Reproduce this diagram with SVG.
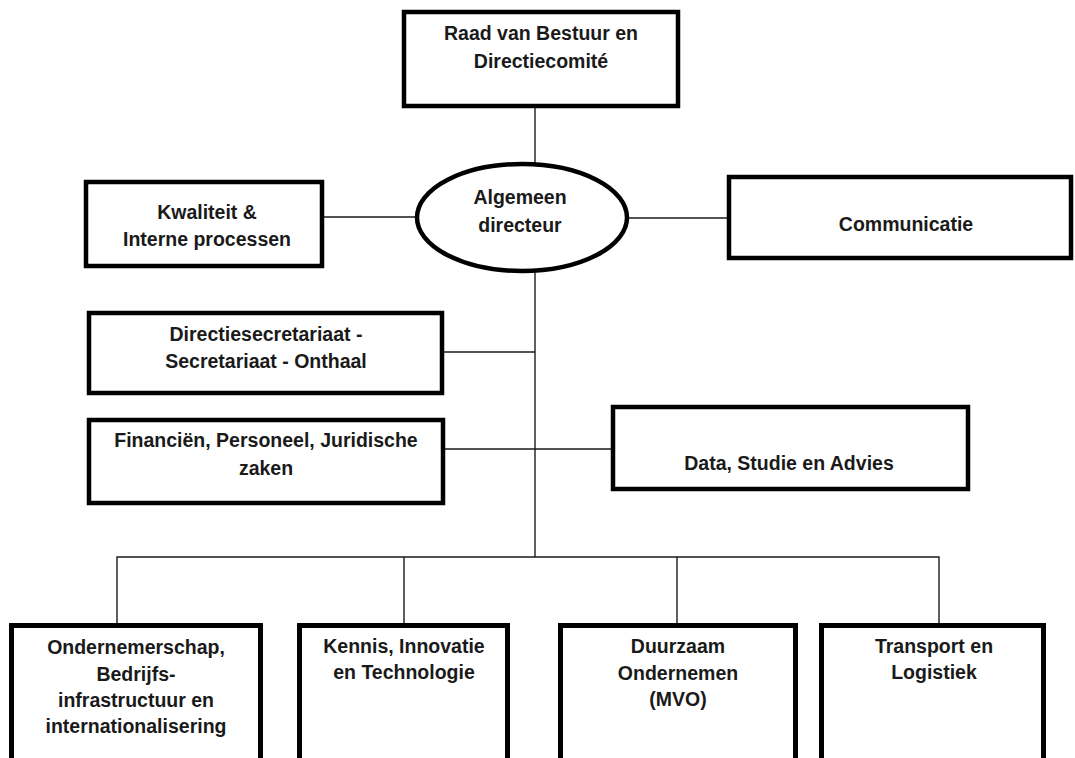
<svg xmlns="http://www.w3.org/2000/svg" width="1075" height="758" viewBox="0 0 1075 758">
<style>
.box{fill:#fff;stroke:#000;stroke-width:4.5}
.bbox{fill:#fff;stroke:#000;stroke-width:5}
.ln{stroke:#1a1a1a;stroke-width:1.4;fill:none}
text{font-family:"Liberation Sans",Arial,sans-serif;font-weight:bold;font-size:19.5px;fill:#1a1a1a;text-anchor:middle}
</style>
<rect width="1075" height="758" fill="#fff"/>
<g id="connectors">
<line class="ln" x1="535" y1="108" x2="535" y2="164"/>
<line class="ln" x1="535" y1="271" x2="535" y2="557"/>
<line class="ln" x1="324" y1="217" x2="417" y2="217"/>
<line class="ln" x1="627" y1="218" x2="727" y2="218"/>
<line class="ln" x1="444" y1="352" x2="535" y2="352"/>
<line class="ln" x1="445" y1="449" x2="611" y2="449"/>
<polyline class="ln" points="117,623 117,557 939,557 939,623"/>
<line class="ln" x1="404" y1="557" x2="404" y2="623"/>
<line class="ln" x1="677" y1="557" x2="677" y2="623"/>
</g>
<g id="raad">
<rect class="box" x="404" y="12" width="274" height="94"/>
<text x="541" y="40">Raad van Bestuur en</text>
<text x="541" y="68">Directiecomité</text>
</g>
<g id="algemeen">
<ellipse class="box" cx="522" cy="217.5" rx="105" ry="53.5"/>
<text x="520" y="204">Algemeen</text>
<text x="520" y="232">directeur</text>
</g>
<g id="kwaliteit">
<rect class="box" x="86" y="182" width="236" height="84"/>
<text x="207" y="219">Kwaliteit &amp;</text>
<text x="207" y="246">Interne processen</text>
</g>
<g id="communicatie">
<rect class="box" x="729" y="177" width="342" height="81"/>
<text x="906" y="231">Communicatie</text>
</g>
<g id="directiesecretariaat">
<rect class="box" x="89" y="313" width="353" height="80"/>
<text x="266" y="341">Directiesecretariaat -</text>
<text x="266" y="368">Secretariaat - Onthaal</text>
</g>
<g id="financien">
<rect class="box" x="89" y="420" width="354" height="83"/>
<text x="266" y="447">Financiën, Personeel, Juridische</text>
<text x="266" y="475">zaken</text>
</g>
<g id="data">
<rect class="box" x="613" y="407" width="355" height="82"/>
<text x="789" y="470">Data, Studie en Advies</text>
</g>
<g id="ondernemerschap">
<rect class="bbox" x="11.5" y="625.5" width="249" height="160"/>
<text x="136" y="654">Ondernemerschap,</text>
<text x="136" y="681">Bedrijfs-</text>
<text x="136" y="707">infrastructuur en</text>
<text x="136" y="733">internationalisering</text>
</g>
<g id="kennis">
<rect class="bbox" x="299.5" y="625.5" width="208" height="160"/>
<text x="404" y="653">Kennis, Innovatie</text>
<text x="404" y="679">en Technologie</text>
</g>
<g id="duurzaam">
<rect class="bbox" x="560.5" y="625.5" width="235" height="160"/>
<text x="678" y="653">Duurzaam</text>
<text x="678" y="680">Ondernemen</text>
<text x="678" y="706">(MVO)</text>
</g>
<g id="transport">
<rect class="bbox" x="821.5" y="625.5" width="222" height="160"/>
<text x="934" y="653">Transport en</text>
<text x="934" y="679">Logistiek</text>
</g>
</svg>
